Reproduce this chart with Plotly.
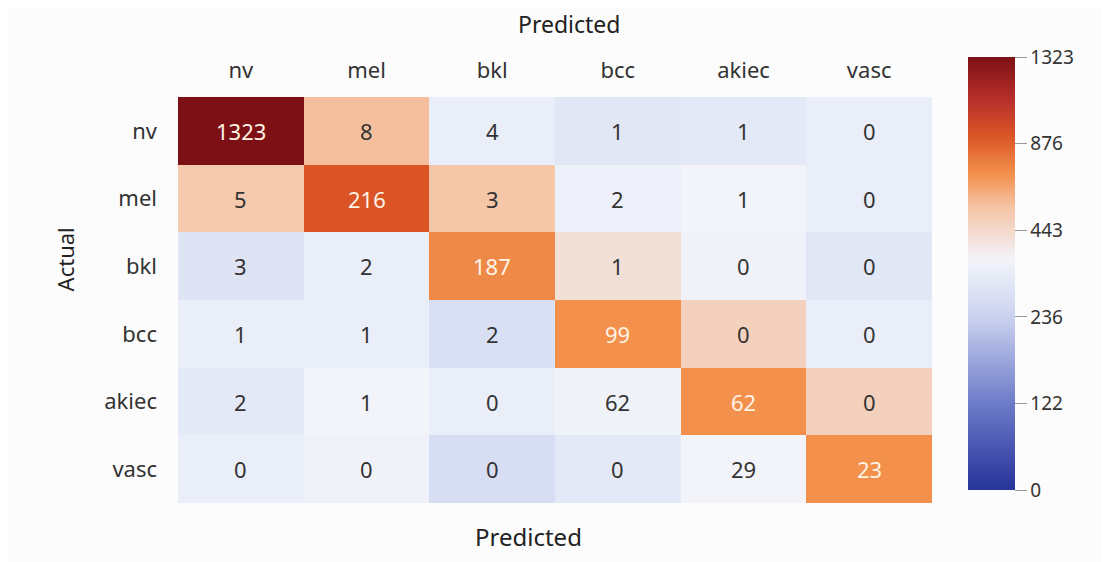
import plotly.graph_objects as go

labels = ["nv", "mel", "bkl", "bcc", "akiec", "vasc"]

counts = [
    [1323, 8, 4, 1, 1, 0],
    [5, 216, 3, 2, 1, 0],
    [3, 2, 187, 1, 0, 0],
    [1, 1, 2, 99, 0, 0],
    [2, 1, 0, 62, 62, 0],
    [0, 0, 0, 0, 29, 23],
]

# colour level of each cell, read on the colour bar's (evenly spaced) tick scale 0..5
shade = [
    [5.00, 3.30, 2.52, 2.38, 2.42, 2.52],
    [3.20, 4.10, 3.25, 2.56, 2.65, 2.52],
    [2.33, 2.52, 3.70, 2.90, 2.60, 2.38],
    [2.52, 2.52, 2.25, 3.65, 3.10, 2.52],
    [2.42, 2.65, 2.52, 2.60, 3.65, 3.10],
    [2.52, 2.60, 2.20, 2.42, 2.65, 3.65],
]

bar_ticks = ["0", "122", "236", "443", "876", "1323"]

colorscale = [
    [0.00, "#26339a"],
    [0.20, "#6d7bc9"],
    [0.40, "#cbd2ef"],
    [0.50, "#e9edf8"],
    [0.53, "#f3f4fa"],
    [0.58, "#f2e0d8"],
    [0.65, "#f5c6a8"],
    [0.73, "#f2904c"],
    [0.82, "#da5426"],
    [0.90, "#b8302a"],
    [1.00, "#7c1014"],
]

text_colors = [["#fff4e6" if s >= 3.6 else "#333333" for s in row] for row in shade]

fig = go.Figure()
fig.add_trace(go.Heatmap(
    z=shade,
    x=labels,
    y=labels,
    zmin=0,
    zmax=5,
    colorscale=colorscale,
    showscale=True,
    hoverinfo="skip",
    colorbar=dict(
        tickmode="array",
        tickvals=list(range(len(bar_ticks))),
        ticktext=bar_ticks,
        ticks="outside",
        ticklen=12,
        tickcolor="#999999",
        tickfont=dict(family="Noto Sans", size=19, color="#333333"),
        thickness=47,
        thicknessmode="pixels",
        len=433,
        lenmode="pixels",
        x=1.0477,
        xanchor="left",
        xpad=0,
        ypad=0,
        y=0.565,
        yanchor="middle",
        outlinewidth=0,
    ),
))

for i, row in enumerate(counts):
    for j, v in enumerate(row):
        fig.add_annotation(
            x=labels[j], y=labels[i], text=str(v), showarrow=False,
            font=dict(family="Noto Sans", size=22, color=text_colors[i][j]),
        )

fig.add_annotation(text="Predicted", xref="paper", yref="paper", x=0.518, y=1.0,
                   yshift=73, showarrow=False, yanchor="middle",
                   font=dict(family="Noto Sans", size=23, color="#222222"))
fig.add_annotation(text="Predicted", xref="paper", yref="paper", x=0.465, y=0.0,
                   yshift=-33, showarrow=False, yanchor="middle",
                   font=dict(family="Noto Sans", size=24, color="#222222"))
fig.add_annotation(text="Actual", xref="paper", yref="paper", x=0.0, xshift=-113,
                   y=0.6, showarrow=False, textangle=-90, xanchor="center",
                   font=dict(family="Noto Sans", size=22, color="#222222"))

fig.update_xaxes(side="top", showgrid=False, zeroline=False, ticks="",
                 tickfont=dict(family="Noto Sans", size=22, color="#333333"),
                 ticklabelstandoff=14)
fig.update_yaxes(autorange="reversed", showgrid=False, zeroline=False, ticks="",
                 tickfont=dict(family="Noto Sans", size=22, color="#333333"),
                 ticklabelstandoff=20)

fig.update_layout(
    width=1102, height=554,
    margin=dict(l=170, r=178, t=89, b=59),
    paper_bgcolor="#fcfcfc",
    plot_bgcolor="#fcfcfc",
    showlegend=False,
)

fig.write_html("out.html")
